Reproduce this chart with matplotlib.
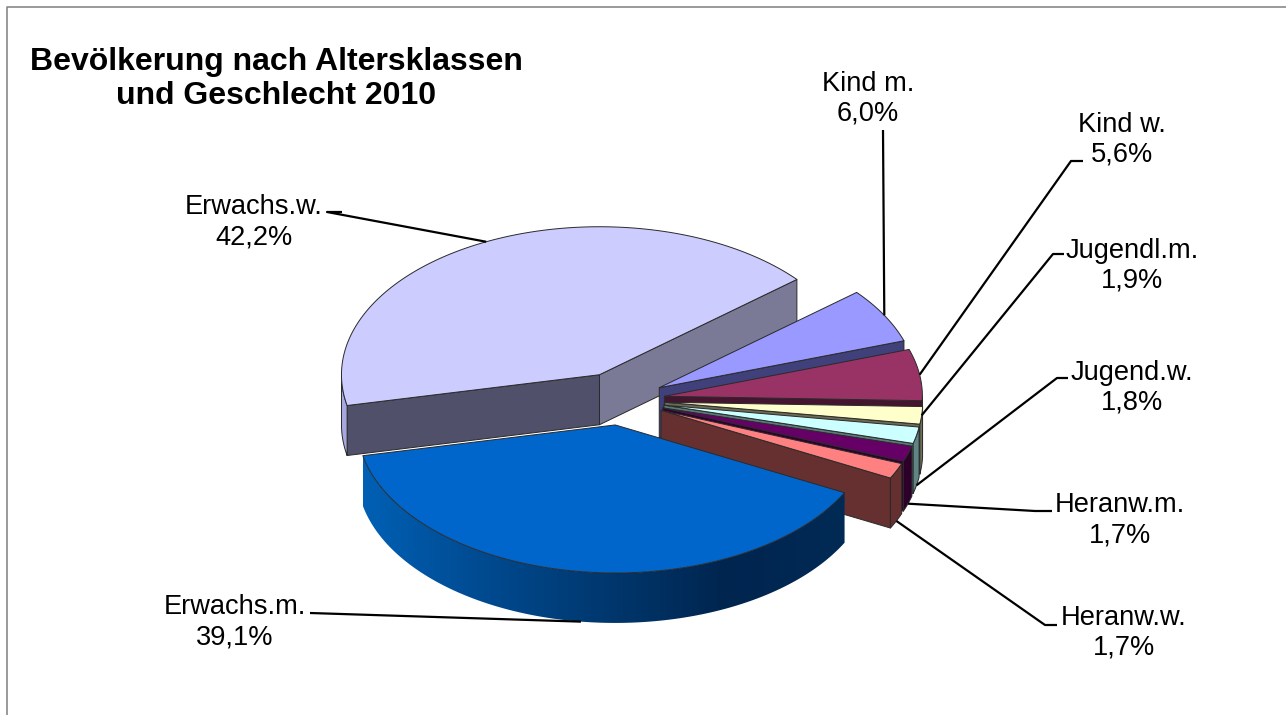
import numpy as np
import matplotlib
matplotlib.use('Agg')
import matplotlib.pyplot as plt
from matplotlib.colors import LinearSegmentedColormap
from matplotlib.patches import Polygon

plt.rcParams['font.family'] = ['Liberation Sans', 'DejaVu Sans']

# Daten
kategorien = ['Erwachs.w.', 'Kind m.', 'Kind w.', 'Jugendl.m.', 'Jugend.w.', 'Heranw.m.', 'Heranw.w.', 'Erwachs.m.']
werte = [42.2, 6.0, 5.6, 1.9, 1.8, 1.7, 1.7, 39.1]
etiketten = ['42,2%', '6,0%', '5,6%', '1,9%', '1,8%', '1,7%', '1,7%', '39,1%']
titel = 'Bevölkerung nach Altersklassen\nund Geschlecht 2010'

# Farben: Oberseite, Schnittflaeche, Rand
farbe_oben = ['#CCCCFF', '#9999FF', '#993366', '#FFFFCC', '#CCFFFF', '#660066', '#FF8080', '#0066CC']
farbe_schnitt = ['#50506A', '#40407A', '#451530', '#6B6B55', '#5A7A7A', '#300030', '#663030', '#003060']
farbe_rand = ['#A8A8E0', '#7070C0', '#6A2448', '#707058', '#5F8585', '#2C0028', '#662F2F', '#003060']
farbe_rechts = '#7A7A96'

# Geometrie in Pixeln des Bildes
cx, cy = 621, 400
rx, ry = 258, 148
tiefe = 50
explode = [0.19, 0.17, 0.17, 0.17, 0.17, 0.17, 0.17, 0.17]
start = 192.0

# Beschriftung: Textmitte, Knick der Linie, Linie am unteren Rand ansetzen
text_pos = [(254, 222.5), (868, 99), (1122, 139.5), (1132, 265.5), (1132, 387.5), (1120, 520), (1124, 633), (235, 622)]
knick = [[(327, 212), (342, 212)], [(883, 130)], [(1071, 161), (1083, 161)], [(1053, 254), (1064, 254)],
         [(1057, 378), (1068, 378)], [(1035, 511), (1052, 511)], [(1045, 625), (1057, 625)], [(310, 613)]]
unten = [False, False, False, False, True, True, True, True]


def punkt(ax_x, ax_y, winkel, r=1.0):
    w = np.radians(winkel)
    return ax_x + r * rx * np.cos(w), ax_y - r * ry * np.sin(w)


def schnitt_flaeche(a, b):
    return [a, b, (b[0], b[1] + tiefe), (a[0], a[1] + tiefe)]


def ist_vorne(spitze, rand, bogen_mitte):
    # Schnittflaeche sichtbar wenn das Stueck im Bild oberhalb der Kante liegt
    steigung = (rand[1] - spitze[1]) / (rand[0] - spitze[0])
    return spitze[1] + steigung * (bogen_mitte[0] - spitze[0]) > bogen_mitte[1]


fig = plt.figure(figsize=(12.86, 7.15), dpi=100)
ax = fig.add_axes([0, 0, 1, 1])
ax.set_xlim(0, 1286)
ax.set_ylim(715, 0)
ax.axis('off')

# Rahmen
ax.plot([7, 7, 1286], [715, 7, 7], color='#7F7F7F', lw=1.1, zorder=1)

kante = dict(edgecolor='#2A2A2A', linewidth=0.7, joinstyle='round')
verlauf = LinearSegmentedColormap.from_list('blau', ['#0060B4', '#004A90', '#00386F', '#00254F', '#002A55'])

winkel = start
z = 2
for i in range(len(werte)):
    # im Uhrzeigersinn
    w_a = winkel
    w_b = winkel - werte[i] / sum(werte) * 360
    winkel = w_b
    mitte = (w_a + w_b) / 2
    ax_x, ax_y = punkt(cx, cy, mitte, explode[i])
    spitze = (ax_x, ax_y)
    rand_a = punkt(ax_x, ax_y, w_a)
    rand_b = punkt(ax_x, ax_y, w_b)
    bogen = np.linspace(w_a, w_b, 201)
    bx, by = punkt(ax_x, ax_y, bogen)
    bogen_mitte = (bx[100], by[100])

    # Schnittflaechen, nur die sichtbaren
    if ist_vorne(spitze, rand_a, bogen_mitte):
        ax.add_patch(Polygon(schnitt_flaeche(spitze, rand_a), closed=True, facecolor=farbe_schnitt[i], zorder=z, **kante))
    if ist_vorne(spitze, rand_b, bogen_mitte):
        farbe = farbe_rechts if i == 0 else farbe_schnitt[i]
        ax.add_patch(Polygon(schnitt_flaeche(spitze, rand_b), closed=True, facecolor=farbe, zorder=z + 0.1, **kante))

    # Rand vorne
    vorne = np.sin(np.radians(bogen)) < 0
    if vorne.any():
        rand = np.r_[np.c_[bx[vorne], by[vorne]], np.c_[bx[vorne], by[vorne] + tiefe][::-1]]
        if i == 7:
            p = Polygon(rand, closed=True, facecolor='none', edgecolor='none', zorder=z + 0.2)
            ax.add_patch(p)
            im = ax.imshow(np.linspace(0, 1, 256)[None, :], cmap=verlauf, aspect='auto',
                           extent=[rand[:, 0].min(), rand[:, 0].max(), rand[:, 1].max(), rand[:, 1].min()], zorder=z + 0.2)
            im.set_clip_path(p)
            ax.set_xlim(0, 1286)
            ax.set_ylim(715, 0)
        else:
            ax.add_patch(Polygon(rand, closed=True, facecolor=farbe_rand[i], zorder=z + 0.2, **kante))

    # Oberseite
    oben = np.r_[[spitze], np.c_[bx, by]]
    ax.add_patch(Polygon(oben, closed=True, facecolor=farbe_oben[i], zorder=z + 0.3, **kante))

    # Beschriftung
    ende = (bx[100], by[100] + (tiefe if unten[i] else 0))
    lx = [ende[0]] + [k[0] for k in knick[i]]
    ly = [ende[1]] + [k[1] for k in knick[i]]
    ax.plot(lx, ly, color='black', lw=1.6, zorder=20, solid_capstyle='butt')
    ax.text(text_pos[i][0], text_pos[i][1], kategorien[i] + '\n' + etiketten[i], ha='center', va='center',
            fontsize=19.6, linespacing=1.2, color='black', zorder=21)
    z += 1

ax.text(276, 79, titel, ha='center', va='center', fontsize=23, fontweight='bold', linespacing=1.16, zorder=21)

fig.savefig('out.png', dpi=100)
